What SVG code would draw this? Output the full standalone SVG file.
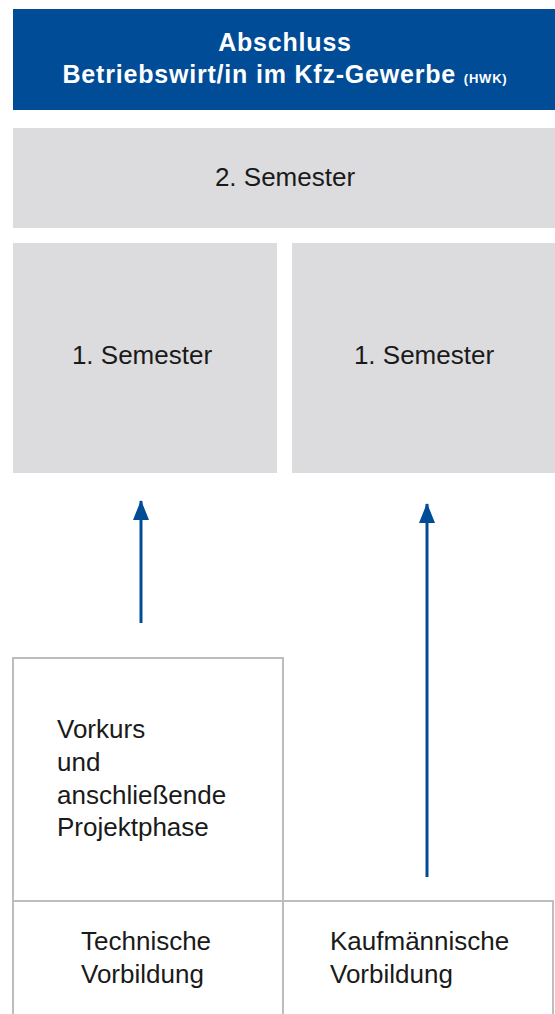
<svg xmlns="http://www.w3.org/2000/svg" width="555" height="1014" viewBox="0 0 555 1014">
<style>
.t{font-family:"Liberation Sans",Arial,sans-serif;fill:#1a1a1a;font-size:26px}
.h{font-family:"Liberation Sans",Arial,sans-serif;fill:#ffffff;font-weight:bold;font-size:25px;letter-spacing:0.8px}
.g{fill:#dcdcde}
.b{fill:none;stroke:#bdbdbd;stroke-width:2}
.a{stroke:#004c97;stroke-width:3;fill:none}
</style>
<defs>
<marker id="ah" markerWidth="20" markerHeight="16" refX="19" refY="8" orient="auto" markerUnits="userSpaceOnUse" viewBox="0 0 20 16"><path d="M0,0 L20,8 L0,16 Z" fill="#004c97"/></marker>
</defs>
<rect width="555" height="1014" fill="#ffffff"/>
<g id="abschluss">
<rect x="13" y="9" width="542" height="101" fill="#004c97"/>
<text class="h" x="285" y="51" text-anchor="middle">Abschluss</text>
<text class="h" x="285" y="83" text-anchor="middle">Betriebswirt/in im Kfz-Gewerbe <tspan font-size="13">(HWK)</tspan></text>
</g>
<g id="sem2">
<rect class="g" x="13" y="128" width="542" height="100"/>
<text class="t" x="285" y="186" text-anchor="middle">2. Semester</text>
</g>
<g id="sem1-left">
<rect class="g" x="13" y="243" width="264" height="230"/>
<text class="t" x="142" y="364" text-anchor="middle">1. Semester</text>
</g>
<g id="sem1-right">
<rect class="g" x="292" y="243" width="263" height="230"/>
<text class="t" x="424" y="364" text-anchor="middle">1. Semester</text>
</g>
<g id="vorkurs">
<path class="b" d="M13,1014 V658 H283 V1014"/>
<text class="t" x="57" y="738">Vorkurs</text>
<text class="t" x="57" y="771">und</text>
<text class="t" x="57" y="804">anschließende</text>
<text class="t" x="57" y="836">Projektphase</text>
</g>
<g id="technisch">
<path class="b" d="M13,1014 V901 H283 V1014"/>
<text class="t" x="81" y="950">Technische</text>
<text class="t" x="81" y="983">Vorbildung</text>
</g>
<g id="kaufmaennisch">
<path class="b" d="M283,1014 V901 H553 V1014"/>
<text class="t" x="330" y="950">Kaufmännische</text>
<text class="t" x="330" y="983">Vorbildung</text>
</g>
<g id="connectors">
<line class="a" x1="141" y1="623" x2="141" y2="501" marker-end="url(#ah)"/>
<line class="a" x1="427" y1="877" x2="427" y2="504" marker-end="url(#ah)"/>
</g>
</svg>
